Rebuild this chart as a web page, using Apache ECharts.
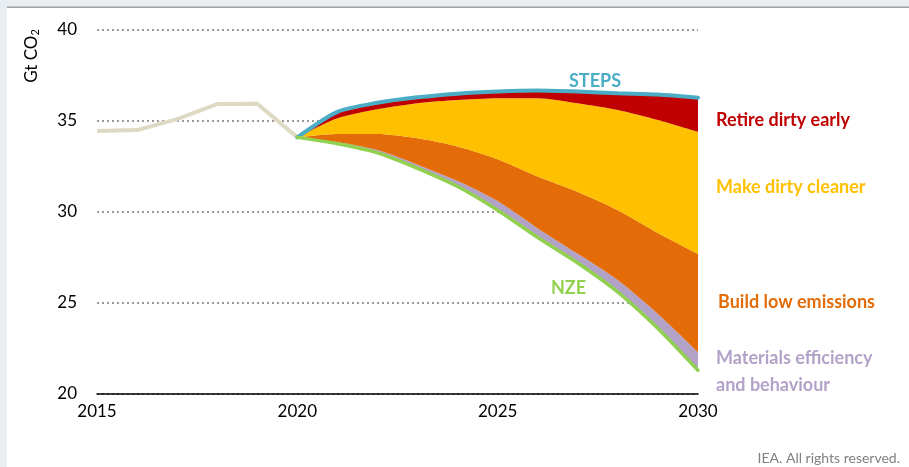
<!DOCTYPE html>
<html>
<head>
<meta charset="utf-8">
<script src="https://cdn.jsdelivr.net/npm/echarts@6/dist/echarts.min.js"></script>
<style>
html,body{margin:0;padding:0;background:#fff;}
#c{width:909px;height:467px;}
</style>
</head>
<body>
<div id="c"></div>
<script>
// ---- data (Gt CO2) ----
const allYears = [2015, 2016, 2017, 2018, 2019, 2020, 2021, 2022, 2023, 2024, 2025, 2026, 2027, 2028, 2029, 2030];
const histYears = [2015, 2016, 2017, 2018, 2019, 2020];
const historical = [34.45, 34.5, 35.1, 35.93, 35.95, 34.1];

const years = [2020, 2021, 2022, 2023, 2024, 2025, 2026, 2027, 2028, 2029, 2030];
const steps        = [34.1, 35.5, 36.0, 36.3, 36.5, 36.62, 36.68, 36.62, 36.52, 36.45, 36.28];
const retireBottom = [34.1, 35.15, 35.65, 35.98, 36.15, 36.25, 36.25, 35.97, 35.6, 35.05, 34.4];
const cleanerBottom= [34.1, 34.28, 34.28, 34.05, 33.6, 32.9, 31.95, 31.1, 30.1, 28.85, 27.7];
const lowEmBottom  = [34.1, 33.85, 33.4, 32.6, 31.7, 30.6, 29.1, 27.7, 26.25, 24.4, 22.3];
const nze          = [34.1, 33.75, 33.25, 32.4, 31.4, 30.1, 28.6, 27.2, 25.6, 23.6, 21.3];

const yTicks = [20, 25, 30, 35, 40];
const xTicks = [2015, 2020, 2025, 2030];

// ---- helpers: align a series to the full category list ----
function align(xs, ys) {
  return allYears.map(y => { const i = xs.indexOf(y); return i < 0 ? null : ys[i]; });
}
const diff = (a, b) => a.map((v, i) => +(v - b[i]).toFixed(3));

const FONT = 'Lato, "Open Sans", sans-serif';
const SM = 0.25;

function band(name, vals, color) {
  return {
    name, type: 'line', stack: 'nz', data: align(years, vals),
    smooth: SM, symbol: 'none', lineStyle: {width: 0},
    areaStyle: {color: color, opacity: 1}, itemStyle: {color: color},
    silent: true, z: 2
  };
}

const chart = echarts.init(document.getElementById('c'), null, {renderer: 'canvas'});
const option = {
  animation: false,
  backgroundColor: '#ffffff',
  grid: {left: 97, right: 211, top: 30, bottom: 73, containLabel: false},
  xAxis: {
    type: 'category', data: allYears.map(String), boundaryGap: false,
    axisLine: {show: true, onZero: false, lineStyle: {color: '#000', width: 1.5}},
    axisTick: {show: false},
    splitLine: {show: false},
    axisLabel: {color: '#000', fontFamily: FONT, fontSize: 17, margin: 9,
      interval: (i, v) => xTicks.indexOf(+v) >= 0}
  },
  yAxis: {
    type: 'value', min: yTicks[0], max: yTicks[yTicks.length - 1], interval: 5,
    axisLine: {show: false}, axisTick: {show: false},
    splitLine: {show: true, lineStyle: {color: '#9a9a9a', width: 2, type: [2, 3]}},
    axisLabel: {color: '#000', fontFamily: FONT, fontSize: 17, margin: 20}
  },
  series: [
    {name: 'base', type: 'line', stack: 'nz', data: align(years, nze), smooth: SM,
      symbol: 'none', lineStyle: {width: 0, opacity: 0}, silent: true, z: 2},
    band('Materials efficiency and behaviour', diff(lowEmBottom, nze), '#b3a2c7'),
    band('Build low emissions', diff(cleanerBottom, lowEmBottom), '#e36c09'),
    band('Make dirty cleaner', diff(retireBottom, cleanerBottom), '#ffc000'),
    band('Retire dirty early', diff(steps, retireBottom), '#c00000'),
    {name: 'STEPS', type: 'line', data: align(years, steps), smooth: SM, symbol: 'none',
      lineStyle: {color: '#4bacc6', width: 4, cap: 'round'}, z: 4},
    {name: 'NZE', type: 'line', data: align(years, nze), smooth: SM, symbol: 'none',
      lineStyle: {color: '#92d050', width: 3.5, cap: 'round'}, z: 4},
    {name: 'Historical', type: 'line', data: align(histYears, historical), symbol: 'none',
      lineStyle: {color: '#ddd9c3', width: 4}, z: 3}
  ],
  graphic: [
    {type: 'rect', shape: {x: 0, y: 0, width: 909, height: 7}, style: {fill: '#e9eef3'}, z: 10},
    {type: 'rect', shape: {x: 0, y: 0, width: 7, height: 467}, style: {fill: '#e9eef3'}, z: 10},
    {type: 'rect', shape: {x: 7, y: 6.5, width: 902, height: 1.6}, style: {fill: '#a0a0a0'}, z: 10},
    {type: 'text', x: 32, y: 56, rotation: Math.PI / 2,
      style: {text: 'Gt CO{s|2}', fill: '#000', font: '17px ' + FONT,
        align: 'center', verticalAlign: 'middle',
        rich: {s: {fontSize: 11, fontFamily: FONT, fill: '#000', verticalAlign: 'bottom', padding: [6, 0, 0, 0]}}}, z: 10},
    {type: 'text', x: 569, y: 81, style: {text: 'STEPS', fill: '#4bacc6', font: 'bold 18px ' + FONT, verticalAlign: 'middle'}, z: 10},
    {type: 'text', x: 551, y: 288, style: {text: 'NZE', fill: '#92d050', font: 'bold 18px ' + FONT, verticalAlign: 'middle'}, z: 10},
    {type: 'text', x: 716, y: 120, style: {text: 'Retire dirty early', fill: '#c00000', font: 'bold 18px ' + FONT, verticalAlign: 'middle'}, z: 10},
    {type: 'text', x: 716, y: 187, style: {text: 'Make dirty cleaner', fill: '#ffc000', font: 'bold 18px ' + FONT, verticalAlign: 'middle'}, z: 10},
    {type: 'text', x: 718, y: 302, style: {text: 'Build low emissions', fill: '#e36c09', font: 'bold 18px ' + FONT, verticalAlign: 'middle'}, z: 10},
    {type: 'text', x: 716, y: 358, style: {text: 'Materials efficiency', fill: '#b3a2c7', font: 'bold 18px ' + FONT, verticalAlign: 'middle'}, z: 10},
    {type: 'text', x: 716, y: 385, style: {text: 'and behaviour', fill: '#b3a2c7', font: 'bold 18px ' + FONT, verticalAlign: 'middle'}, z: 10},
    {type: 'text', x: 900, y: 458, style: {text: 'IEA. All rights reserved.', fill: '#808080', font: '14px ' + FONT, align: 'right', verticalAlign: 'middle'}, z: 10}
  ]
};
chart.setOption(option);
</script>
</body>
</html>
